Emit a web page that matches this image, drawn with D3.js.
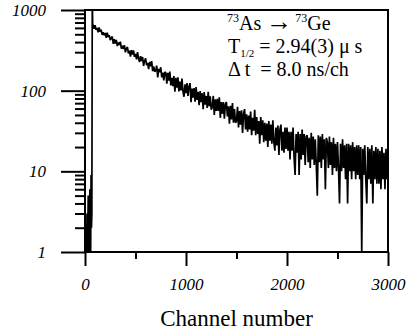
<!DOCTYPE html>
<html>
<head>
<meta charset="utf-8">
<script src="https://cdn.jsdelivr.net/npm/d3@7"></script>
<style>
  html, body { margin: 0; padding: 0; background: #fff; }
  svg { display: block; }
  text { font-family: "Liberation Serif", "Times New Roman", serif; fill: #000; }
</style>
</head>
<body>
<svg id="chart" width="417" height="330"></svg>
<script>
// prompt region before the decay starts (counts of 0 drawn at the bottom)
const earlyChannels = [0, 4, 8, 12, 16, 20, 24, 28, 32, 36, 40, 44, 48, 52, 56, 60, 64, 68, 72, 76];
const earlyCounts = [1, 2, 1, 2, 1, 3, 1, 2, 5, 1, 2, 1, 6, 2, 1, 9, 2, 3, 1400, 660];

// decay curve, one value every 10 channels from channel 80
const decayStart = 80;
const decayStep = 10;
const decayCounts = [
  650, 585,
  646, 567, 601, 528, 608, 537, 570, 491, 528, 486,
  518, 452, 525, 462, 488, 423, 446, 469, 380, 436,
  383, 425, 357, 396, 368, 405, 332, 360, 328, 366,
  298, 334, 347, 290, 313, 265, 317, 280, 316, 263,
  286, 245, 300, 252, 227, 267, 233, 261, 203, 233,
  252, 208, 221, 185, 227, 201, 232, 175, 200, 172,
  177, 204, 146, 186, 169, 195, 146, 167, 134, 170,
  167, 122, 166, 133, 172, 116, 144, 114, 152, 97,
  144, 109, 146, 98, 130, 101, 141, 98, 84, 120,
  93, 124, 86, 113, 124, 72, 106, 82, 108, 73,
  111, 77, 97, 66, 99, 72, 93, 59, 96, 67,
  86, 61, 97, 64, 85, 58, 63, 86, 50, 78,
  56, 79, 56, 83, 46, 72, 52, 72, 45, 68,
  72, 48, 64, 39, 65, 44, 70, 40, 59, 40,
  42, 63, 35, 56, 38, 57, 30, 52, 59, 33,
  51, 31, 49, 33, 55, 28, 46, 32, 58, 28,
  47, 29, 42, 22, 47, 28, 43, 23, 40, 24,
  39, 20, 42, 24, 38, 22, 43, 23, 18, 35,
  21, 37, 16, 33, 38, 18, 31, 17, 35, 19,
  35, 18, 31, 14, 31, 18, 35, 15, 9, 29,
  17, 31, 9, 29, 14, 33, 16, 29, 12, 27,
  28, 13, 26, 11, 30, 14, 27, 12, 25, 12,
  5, 28, 13, 27, 11, 29, 14, 25, 6, 26,
  23, 11, 27, 12, 23, 9, 26, 11, 22, 10,
  23, 11, 4, 22, 10, 25, 11, 21, 8, 22,
  4, 22, 10, 21, 8, 23, 10, 20, 8, 21,
  9, 21, 8, 20, 1, 19, 9, 21, 8, 4,
  20, 8, 19, 7, 21, 4, 18, 8, 20, 7,
  19, 7, 18, 6, 20, 8, 17, 6, 19, 8, 14
];

const xMajorTicks = [0, 1000, 2000, 3000];
const xMinorTicks = [500, 1500, 2500];
const yMajorTicks = [1, 10, 100, 1000];
const yMinorTicks = [2, 3, 4, 5, 6, 7, 8, 9, 20, 30, 40, 50, 60, 70, 80, 90, 200, 300, 400, 500, 600, 700, 800, 900];
const xTitle = "Channel number";

const serif = '"Liberation Serif", "Times New Roman", serif';
const svg = d3.select("#chart");

const x = d3.scaleLinear().domain([0, 3000]).range([85, 388]);
const y = d3.scaleLog().domain([1, 1000]).range([252, 10]);

const points = earlyChannels
  .map((c, i) => [c, earlyCounts[i]])
  .concat(decayCounts.map((v, i) => [decayStart + i * decayStep, v]));

svg.append("defs")
  .append("clipPath")
  .attr("id", "plot-clip")
  .append("rect")
  .attr("x", x(0))
  .attr("y", y(1000))
  .attr("width", x(3000) - x(0))
  .attr("height", y(1) - y(1000));

// spectrum
const line = d3.line()
  .x((d) => x(d[0]))
  .y((d) => y(Math.max(d[1], 1)));

svg.append("path")
  .datum(points)
  .attr("clip-path", "url(#plot-clip)")
  .attr("d", line)
  .attr("fill", "none")
  .attr("stroke", "#000")
  .attr("stroke-width", 1.7)
  .attr("stroke-linejoin", "bevel");

// frame
svg.append("rect")
  .attr("x", x(0))
  .attr("y", y(1000))
  .attr("width", x(3000) - x(0))
  .attr("height", y(1) - y(1000))
  .attr("fill", "none")
  .attr("stroke", "#000")
  .attr("stroke-width", 2);

function styleAxis(g) {
  g.select(".domain").remove();
  g.selectAll("line").attr("stroke", "#000").attr("stroke-width", 2);
  g.selectAll("text")
    .attr("font-family", serif)
    .attr("font-size", 17)
    .attr("font-style", "italic")
    .attr("fill", "#000");
}

// y axis (ticks point outward)
svg.append("g")
  .attr("transform", `translate(${x(0)},0)`)
  .call(d3.axisLeft(y).tickValues(yMajorTicks).tickFormat(d3.format("d")).tickSize(24).tickPadding(15))
  .call(styleAxis);

svg.append("g")
  .attr("transform", `translate(${x(0)},0)`)
  .call(d3.axisLeft(y).tickValues(yMinorTicks).tickFormat("").tickSize(10))
  .call(styleAxis);

// x axis
svg.append("g")
  .attr("transform", `translate(0,${y(1)})`)
  .call(d3.axisBottom(x).tickValues(xMajorTicks).tickFormat(d3.format("d")).tickSize(14).tickPadding(12))
  .call(styleAxis);

svg.append("g")
  .attr("transform", `translate(0,${y(1)})`)
  .call(d3.axisBottom(x).tickValues(xMinorTicks).tickFormat("").tickSize(7))
  .call(styleAxis);

svg.append("text")
  .attr("x", (x(0) + x(3000)) / 2)
  .attr("y", 326)
  .attr("text-anchor", "middle")
  .attr("font-size", 23)
  .text(xTitle);

// annotation
const note = svg.append("g").attr("font-size", 20);

const l1 = note.append("text").attr("x", 227).attr("y", 30);
l1.append("tspan").attr("font-size", 12).attr("dy", -8).text("73");
l1.append("tspan").attr("dy", 8).text("As ");
l1.append("tspan").attr("font-size", 26).attr("dy", 0).text("\u2192");
l1.append("tspan").attr("font-size", 12).attr("dy", -8).text(" 73");
l1.append("tspan").attr("dy", 8).text("Ge");

const l2 = note.append("text").attr("x", 228).attr("y", 53);
l2.append("tspan").text("T");
l2.append("tspan").attr("font-size", 11).attr("dy", 4).text("1/2");
l2.append("tspan").attr("dy", -4).text(" = 2.94(3) \u03bc s");

note.append("text")
  .attr("x", 228)
  .attr("y", 76)
  .style("white-space", "pre")
  .text("\u0394 t  = 8.0 ns/ch");
</script>
</body>
</html>
